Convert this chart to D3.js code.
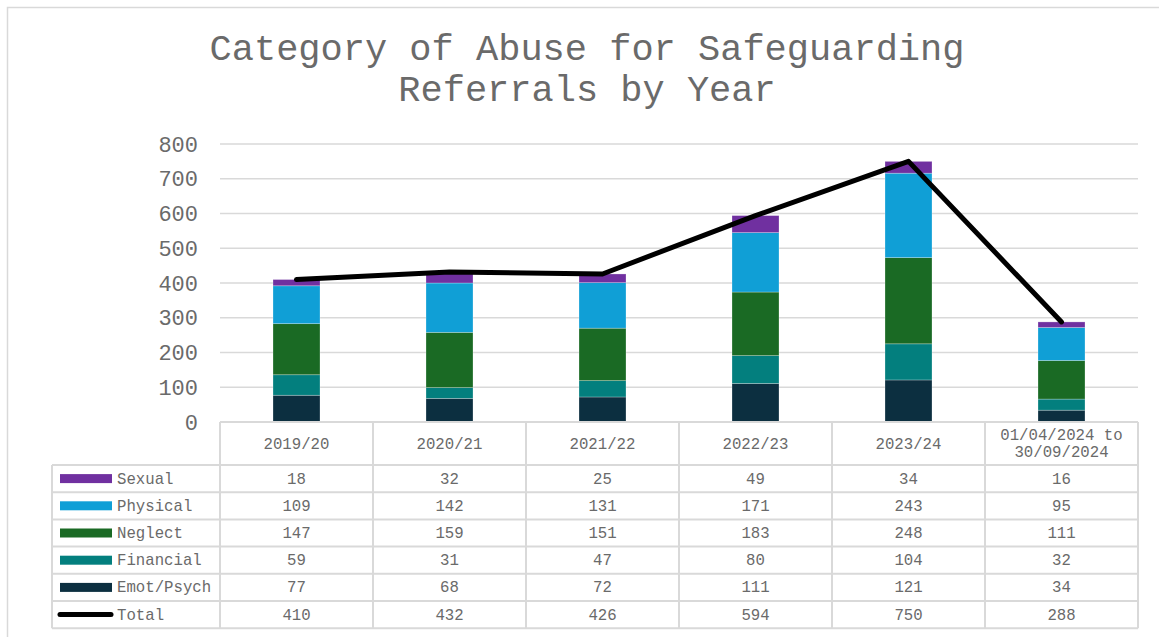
<!DOCTYPE html>
<html>
<head>
<meta charset="utf-8">
<script src="https://cdn.jsdelivr.net/npm/d3@7"></script>
<style>
  body { margin: 0; background: #fff; }
  svg { display: block; font-family: "Liberation Mono", "Courier New", monospace; }
</style>
</head>
<body>
<svg id="drawing_region"></svg>
<script>
var Years = ['2019/20', '2020/21', '2021/22', '2022/23', '2023/24', '01/04/2024 to\n30/09/2024'];
var EmotPsych = [77, 68, 72, 111, 121, 34];
var Financial = [59, 31, 47, 80, 104, 32];
var Neglect = [147, 159, 151, 183, 248, 111];
var Physical = [109, 142, 131, 171, 243, 95];
var Sexual = [18, 32, 25, 49, 34, 16];
var Total = [410, 432, 426, 594, 750, 288];
var YTicks = [0, 100, 200, 300, 400, 500, 600, 700, 800];

var Series = [
    { name: 'Emot/Psych', values: EmotPsych, color: '#0c2f40' },
    { name: 'Financial', values: Financial, color: '#037f7e' },
    { name: 'Neglect', values: Neglect, color: '#1a6a24' },
    { name: 'Physical', values: Physical, color: '#109fd6' },
    { name: 'Sexual', values: Sexual, color: '#7030a0' }
];

var Config = {
    width: 1159,
    height: 637,
    plot: { left: 220, right: 1138, top: 144, bottom: 422 },
    tableLeft: 52,
    headerHeight: 43,
    rowHeight: 27.2
};

const textColor = '#6a6a6a';

const svg = d3.select('#drawing_region')
    .attr('width', Config.width)
    .attr('height', Config.height);

// outer chart frame
svg.append('rect')
    .attr('x', 7.5).attr('y', 7.5)
    .attr('width', 1160).attr('height', 640)
    .attr('fill', 'none')
    .attr('stroke', '#d9d9d9')
    .attr('stroke-width', 1.5);

// title
svg.append('text')
    .attr('x', 587).attr('y', 60)
    .attr('text-anchor', 'middle')
    .attr('font-size', 37)
    .attr('fill', textColor)
    .selectAll('tspan')
    .data(['Category of Abuse for Safeguarding', 'Referrals by Year'])
    .join('tspan')
    .attr('x', 587)
    .attr('dy', (d, i) => i === 0 ? 0 : 41)
    .text(d => d);

const p = Config.plot;

const xscale = d3.scaleBand()
    .domain(d3.range(Years.length))
    .range([p.left, p.right])
    .paddingInner(0)
    .paddingOuter(0);

const yscale = d3.scaleLinear()
    .domain([0, 800])
    .range([p.bottom, p.top]);

// gridlines
svg.append('g')
    .selectAll('line')
    .data(YTicks.slice(1))
    .join('line')
    .attr('x1', p.left).attr('x2', p.right)
    .attr('y1', d => yscale(d)).attr('y2', d => yscale(d))
    .attr('stroke', '#d9d9d9')
    .attr('stroke-width', 1.5);

// y axis labels
const yaxis = d3.axisLeft(yscale)
    .tickValues(YTicks)
    .tickSize(0)
    .tickPadding(22);

svg.append('g')
    .attr('transform', `translate(${p.left}, 0)`)
    .call(yaxis)
    .call(g => g.select('.domain').remove())
    .call(g => g.selectAll('text')
        .attr('font-family', '"Liberation Mono", monospace')
        .attr('font-size', 22)
        .attr('fill', textColor));

// stacked bars
const stackData = Years.map((y, i) => {
    const row = { i: i };
    Series.forEach(s => { row[s.name] = s.values[i]; });
    return row;
});
const stacked = d3.stack().keys(Series.map(s => s.name))(stackData);
const barWidth = 47;

svg.append('g')
    .selectAll('g')
    .data(stacked)
    .join('g')
    .attr('fill', (d, i) => Series[i].color)
    .selectAll('rect')
    .data(d => d)
    .join('rect')
    .attr('x', d => xscale(d.data.i) + xscale.bandwidth() / 2 - barWidth / 2)
    .attr('width', barWidth)
    .attr('y', d => yscale(d[1]))
    .attr('height', d => yscale(d[0]) - yscale(d[1]))
    .attr('stroke', 'rgba(255,255,255,0.35)')
    .attr('stroke-width', 0.75);

// total line
const line = d3.line()
    .x((d, i) => xscale(i) + xscale.bandwidth() / 2)
    .y(d => yscale(d));

svg.append('path')
    .datum(Total)
    .attr('d', line)
    .attr('fill', 'none')
    .attr('stroke', '#000')
    .attr('stroke-width', 5)
    .attr('stroke-linecap', 'round')
    .attr('stroke-linejoin', 'round');

// data table
const rows = [
    { name: 'Sexual', values: Sexual, color: '#7030a0', type: 'bar' },
    { name: 'Physical', values: Physical, color: '#109fd6', type: 'bar' },
    { name: 'Neglect', values: Neglect, color: '#1a6a24', type: 'bar' },
    { name: 'Financial', values: Financial, color: '#037f7e', type: 'bar' },
    { name: 'Emot/Psych', values: EmotPsych, color: '#0c2f40', type: 'bar' },
    { name: 'Total', values: Total, color: '#000', type: 'line' }
];

const table = svg.append('g');
const gridColor = '#d9d9d9';
const headTop = p.bottom;
const bodyTop = headTop + Config.headerHeight;
const bodyBottom = bodyTop + rows.length * Config.rowHeight;
const fs = 15.7;

table.append('line')
    .attr('x1', p.left).attr('x2', p.right)
    .attr('y1', headTop).attr('y2', headTop)
    .attr('stroke', gridColor).attr('stroke-width', 2);

table.selectAll('line.row')
    .data(d3.range(rows.length + 1))
    .join('line')
    .attr('class', 'row')
    .attr('x1', Config.tableLeft).attr('x2', p.right)
    .attr('y1', d => bodyTop + d * Config.rowHeight)
    .attr('y2', d => bodyTop + d * Config.rowHeight)
    .attr('stroke', gridColor).attr('stroke-width', 2);

table.selectAll('line.col')
    .data(d3.range(Years.length + 1))
    .join('line')
    .attr('class', 'col')
    .attr('x1', d => d < Years.length ? xscale(d) : p.right)
    .attr('x2', d => d < Years.length ? xscale(d) : p.right)
    .attr('y1', headTop).attr('y2', bodyBottom)
    .attr('stroke', gridColor).attr('stroke-width', 2);

table.append('line')
    .attr('x1', Config.tableLeft).attr('x2', Config.tableLeft)
    .attr('y1', bodyTop).attr('y2', bodyBottom)
    .attr('stroke', gridColor).attr('stroke-width', 2);

// header labels
table.selectAll('text.head')
    .data(Years)
    .join('text')
    .attr('class', 'head')
    .attr('text-anchor', 'middle')
    .attr('font-size', fs)
    .attr('fill', textColor)
    .each(function (d, i) {
        const parts = d.split('\n');
        const cx = xscale(i) + xscale.bandwidth() / 2;
        const startY = headTop + Config.headerHeight / 2 + 5 - (parts.length - 1) * 8.5;
        d3.select(this).selectAll('tspan')
            .data(parts)
            .join('tspan')
            .attr('x', cx)
            .attr('y', (t, k) => startY + k * 17)
            .text(t => t);
    });

// body rows
const rowG = table.selectAll('g.r')
    .data(rows)
    .join('g')
    .attr('class', 'r')
    .attr('transform', (d, i) => `translate(0, ${bodyTop + i * Config.rowHeight})`);

rowG.filter(d => d.type === 'bar')
    .append('rect')
    .attr('x', 60).attr('y', Config.rowHeight / 2 - 4.5)
    .attr('width', 52).attr('height', 9)
    .attr('fill', d => d.color);

rowG.filter(d => d.type === 'line')
    .append('line')
    .attr('x1', 60).attr('x2', 111)
    .attr('y1', Config.rowHeight / 2).attr('y2', Config.rowHeight / 2)
    .attr('stroke', '#000').attr('stroke-width', 5)
    .attr('stroke-linecap', 'round');

rowG.append('text')
    .attr('x', 117)
    .attr('y', Config.rowHeight / 2 + 5)
    .attr('font-size', fs)
    .attr('fill', textColor)
    .text(d => d.name);

rowG.selectAll('text.v')
    .data(d => d.values)
    .join('text')
    .attr('class', 'v')
    .attr('x', (d, i) => xscale(i) + xscale.bandwidth() / 2)
    .attr('y', Config.rowHeight / 2 + 5)
    .attr('text-anchor', 'middle')
    .attr('font-size', fs)
    .attr('fill', textColor)
    .text(d => d);
</script>
</body>
</html>
